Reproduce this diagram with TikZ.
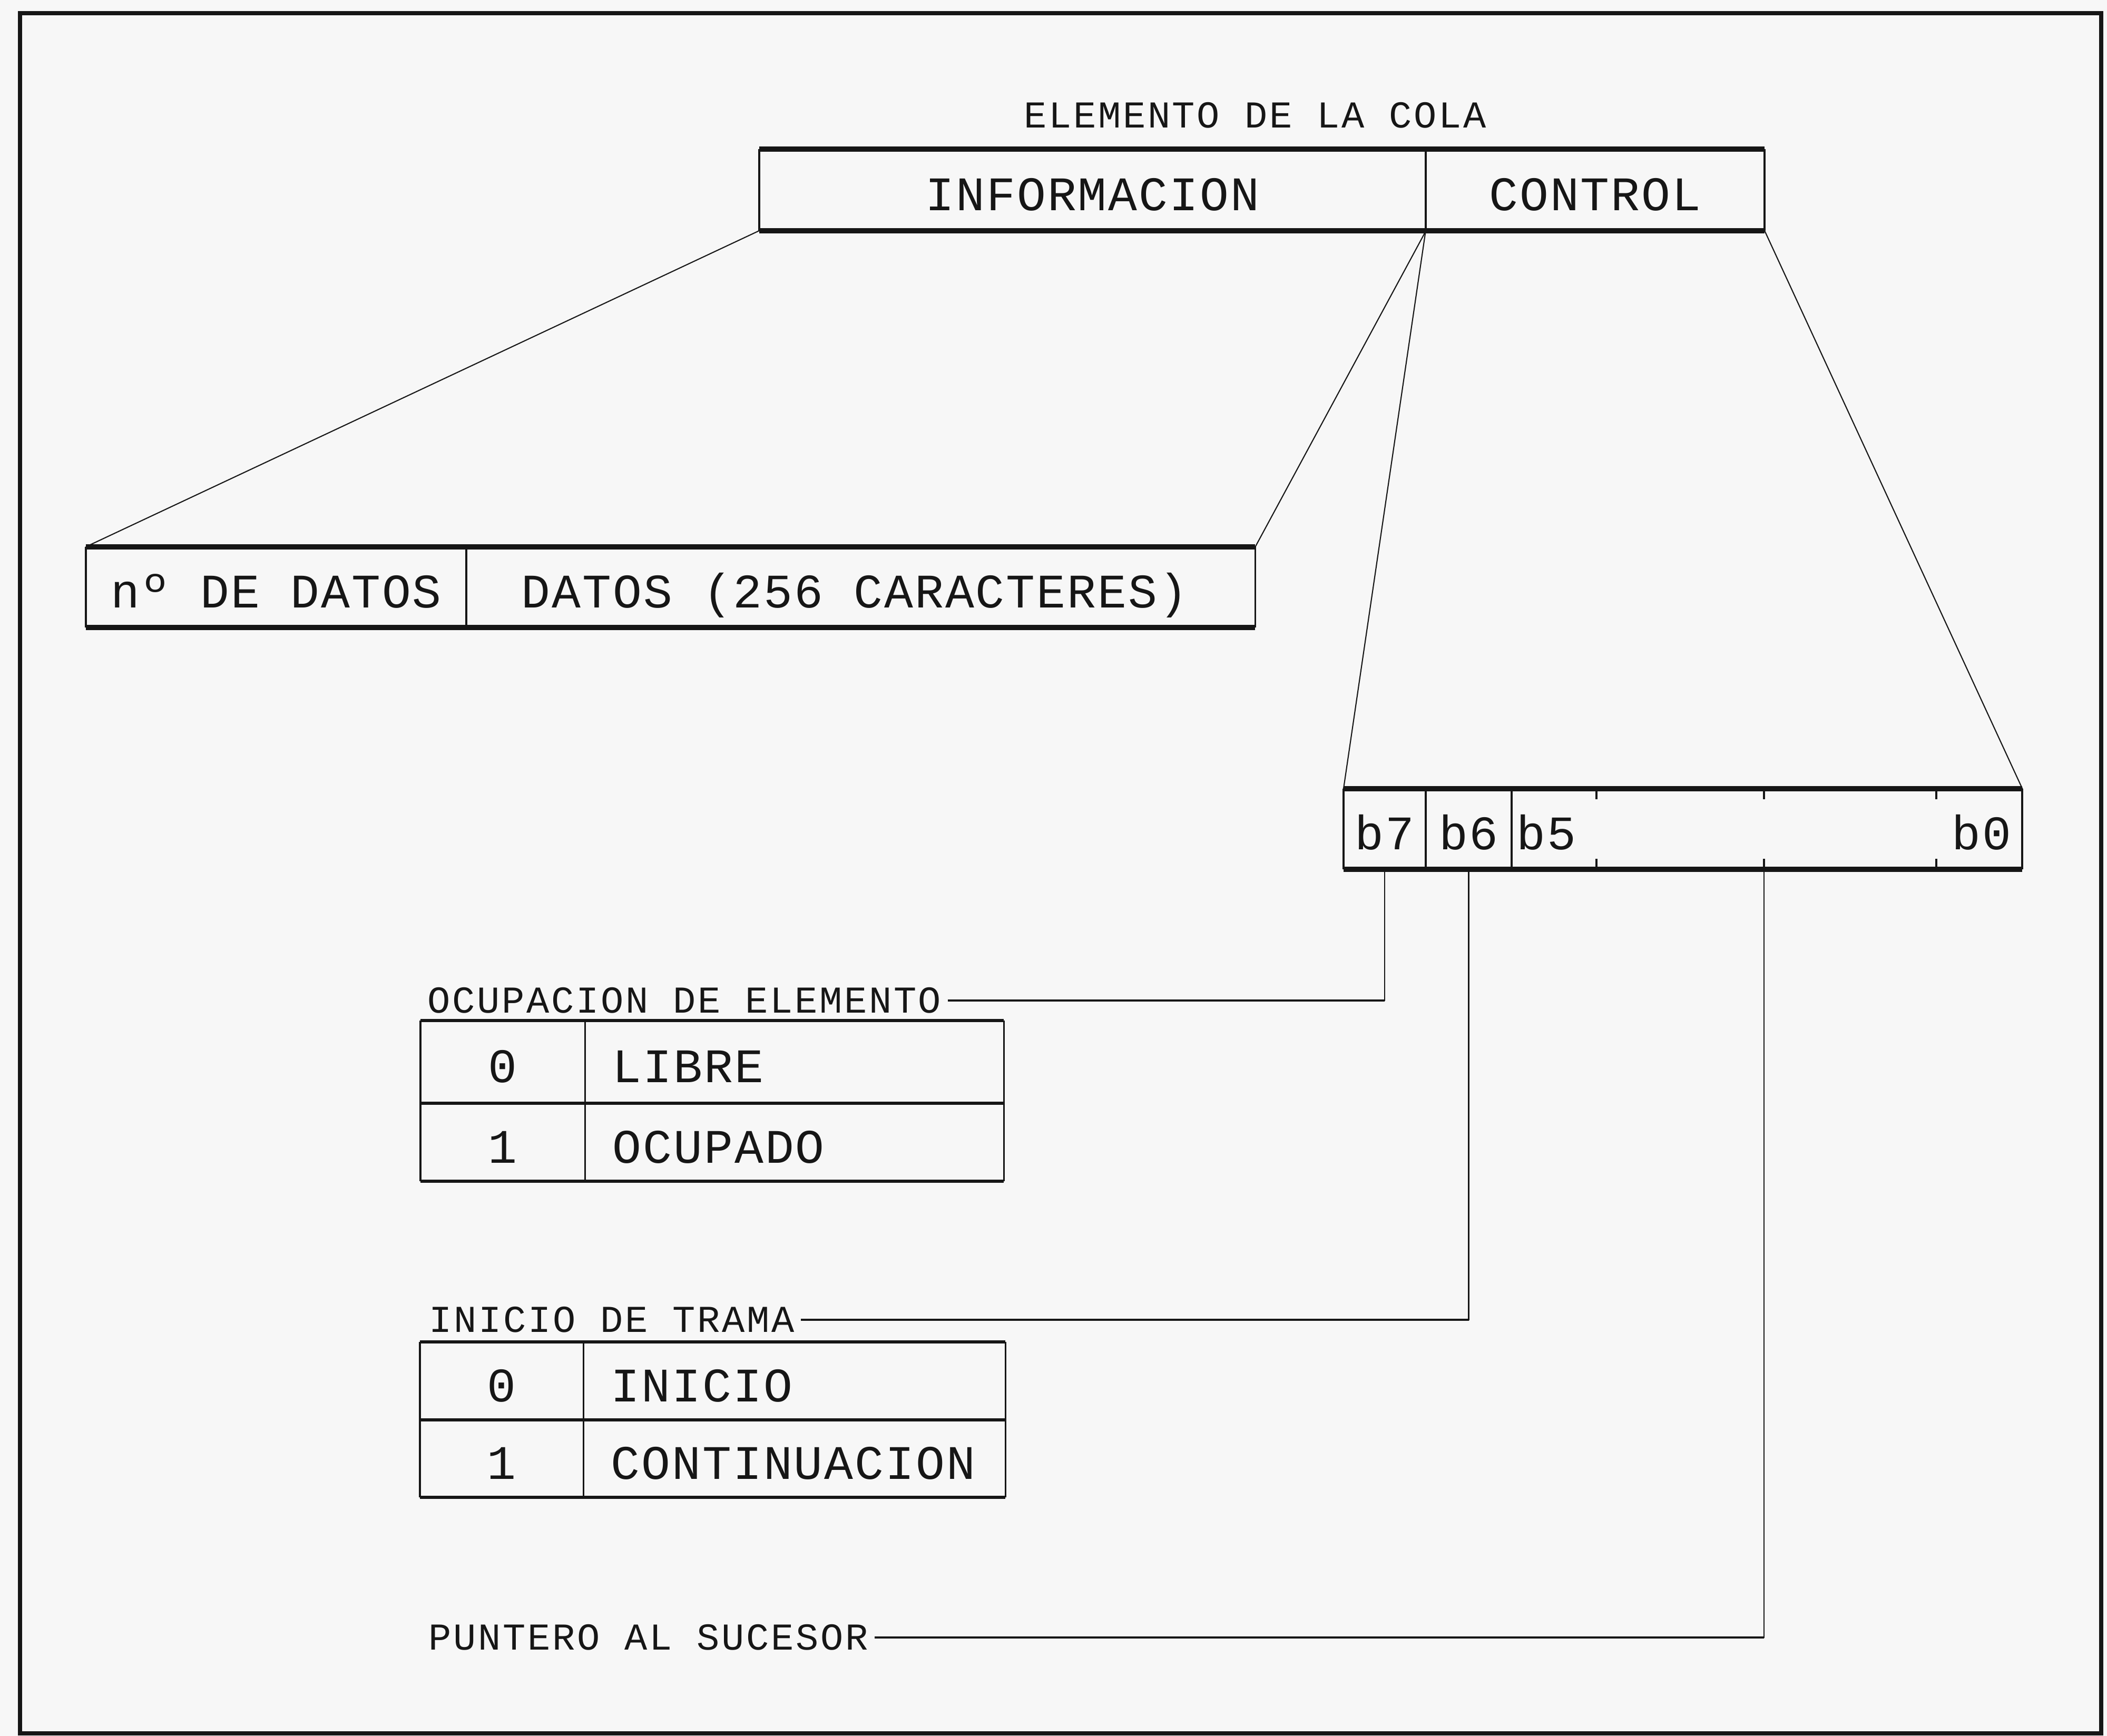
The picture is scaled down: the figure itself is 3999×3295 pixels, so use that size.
\documentclass[tikz,border=0pt]{standalone}
\usepackage{fontspec}
\newfontfamily\plotbig[LetterSpace=3.3]{Liberation Mono}
\newfontfamily\plotsmall[LetterSpace=5.1]{Liberation Mono}
\usetikzlibrary{calc}
\definecolor{bg}{RGB}{247,247,247}
\definecolor{ink}{RGB}{22,22,22}
\begin{document}
\begin{tikzpicture}[x=0.01cm,y=-0.01cm,
  cell/.style={draw=none,rectangle,inner sep=0pt,outer sep=0pt},
  big/.style={font=\plotbig\fontsize{26}{30}\selectfont,text=ink,text height=22.2pt,text depth=0pt},
  small/.style={font=\plotsmall\fontsize{20.5}{24}\selectfont,text=ink,inner sep=0pt},
  lcell/.style={cell,big,align=left,inner xsep=0.53cm},
  hedge/.style={line width=2.6pt,draw=ink},
  vedge/.style={line width=1.1pt,draw=ink},
  thedge/.style={line width=1.5pt,draw=ink},
  tvedge/.style={line width=0.9pt,draw=ink},
  conn/.style={line width=0.6pt,draw=ink},
  connh/.style={line width=1.1pt,draw=ink},
  frame/.style={line width=2.4pt,draw=ink}
]
\fill[bg] (0,0) rectangle (3999,3295);
\useasboundingbox (0,0) rectangle (3999,3295);
\draw[frame] (38,25) rectangle (3988,3290);

% title
\node[small] (title) at (2382,219) {ELEMENTO DE LA COLA};

% queue element
\node[cell,big,minimum width=12.65cm,minimum height=1.55cm] (info) at (2073.5,360.5) {INFORMACION};
\node[cell,big,minimum width=6.43cm,minimum height=1.55cm] (ctrl) at (3027.5,360.5) {CONTROL};
\draw[hedge] (info.north west) -- (ctrl.north east);
\draw[hedge] (info.south west) -- (ctrl.south east);
\draw[vedge] (info.north west) -- (info.south west);
\draw[vedge] (info.north east) -- (info.south east);
\draw[vedge] (ctrl.north east) -- (ctrl.south east);

% information block
\node[cell,big,minimum width=7.22cm,minimum height=1.53cm] (ndat) at (524,1114.5) {nº DE DATOS};
\node[cell,minimum width=14.97cm,minimum height=1.53cm] (datos) at (1633.5,1114.5) {};
\node[big,inner sep=0pt] (tdatos) at (1622,1114.5) {DATOS (256 CARACTERES)};
\draw[hedge] (ndat.north west) -- (datos.north east);
\draw[hedge] (ndat.south west) -- (datos.south east);
\draw[vedge] (ndat.north west) -- (ndat.south west);
\draw[vedge] (ndat.north east) -- (ndat.south east);
\draw[vedge] (datos.north east) -- (datos.south east);

% control byte
\node[cell,big,minimum width=1.56cm,minimum height=1.53cm] (b7) at (2628,1573.5) {b7};
\node[cell,big,minimum width=1.63cm,minimum height=1.53cm] (b6) at (2787.5,1573.5) {b6};
\node[cell,minimum width=9.69cm,minimum height=1.53cm] (rest) at (3353.5,1573.5) {};
\node[big,inner sep=0pt,anchor=west] (tb5) at (2878,1573.5) {b5};
\node[big,inner sep=0pt,anchor=east] (tb0) at (3818,1573.5) {b0};
\draw[hedge] (b7.north west) -- (rest.north east);
\draw[hedge] (b7.south west) -- (rest.south east);
\draw[vedge] (b7.north west) -- (b7.south west);
\draw[vedge] (b7.north east) -- (b7.south east);
\draw[vedge] (b6.north east) -- (b6.south east);
\draw[vedge] (rest.north east) -- (rest.south east);
\foreach \tx in {3030,3348,3675}{
  \draw[vedge] (\tx,1497) -- (\tx,1517);
  \draw[vedge] (\tx,1650) -- (\tx,1630);
}
\coordinate (pt) at (3348,1650);

% fan-out lines
\draw[conn] (info.south west) -- (ndat.north west);
\draw[conn] (info.south east) -- (datos.north east);
\draw[conn] (ctrl.south west) -- (b7.north west);
\draw[conn] (ctrl.south east) -- (rest.north east);

% labels
\node[small,anchor=west,inner xsep=0.12cm] (ocup) at (799,1899) {OCUPACION DE ELEMENTO};
\node[small,anchor=west,inner xsep=0.12cm] (inic) at (802,2505) {INICIO DE TRAMA};
\node[small,anchor=west,inner xsep=0.12cm] (punt) at (801,3108) {PUNTERO AL SUCESOR};

\draw[conn] (b7.south) |- (ocup.east);
\draw[connh] (ocup.east) -- (ocup.east -| b7.south);
\draw[conn] (b6.south) |- (inic.east);
\draw[connh] (inic.east) -- (inic.east -| b6.south);
\draw[conn] (pt) |- (punt.east);
\draw[connh] (punt.east) -- (punt.east -| pt);

% table 1
\node[cell,big,minimum width=3.12cm,minimum height=1.57cm] (t1a) at (954,2015.5) {0};
\node[lcell,text width=6.89cm,minimum height=1.57cm] (t1b) at (1507.5,2015.5) {LIBRE};
\node[cell,big,minimum width=3.12cm,minimum height=1.48cm] (t1c) at (954,2168) {1};
\node[lcell,text width=6.89cm,minimum height=1.48cm] (t1d) at (1507.5,2168) {OCUPADO};
\draw[thedge] (t1a.north west) -- (t1b.north east);
\draw[thedge] (t1a.south west) -- (t1b.south east);
\draw[thedge] (t1c.south west) -- (t1d.south east);
\draw[tvedge] (t1a.north west) -- (t1c.south west);
\draw[tvedge] (t1a.north east) -- (t1c.south east);
\draw[tvedge] (t1b.north east) -- (t1d.south east);

% table 2
\node[cell,big,minimum width=3.10cm,minimum height=1.48cm] (t2a) at (952,2621) {0};
\node[lcell,text width=6.95cm,minimum height=1.48cm] (t2b) at (1507.5,2621) {INICIO};
\node[cell,big,minimum width=3.10cm,minimum height=1.47cm] (t2c) at (952,2768.5) {1};
\node[lcell,text width=6.95cm,minimum height=1.47cm] (t2d) at (1507.5,2768.5) {CONTINUACION};
\draw[thedge] (t2a.north west) -- (t2b.north east);
\draw[thedge] (t2a.south west) -- (t2b.south east);
\draw[thedge] (t2c.south west) -- (t2d.south east);
\draw[tvedge] (t2a.north west) -- (t2c.south west);
\draw[tvedge] (t2a.north east) -- (t2c.south east);
\draw[tvedge] (t2b.north east) -- (t2d.south east);
\end{tikzpicture}
\end{document}
